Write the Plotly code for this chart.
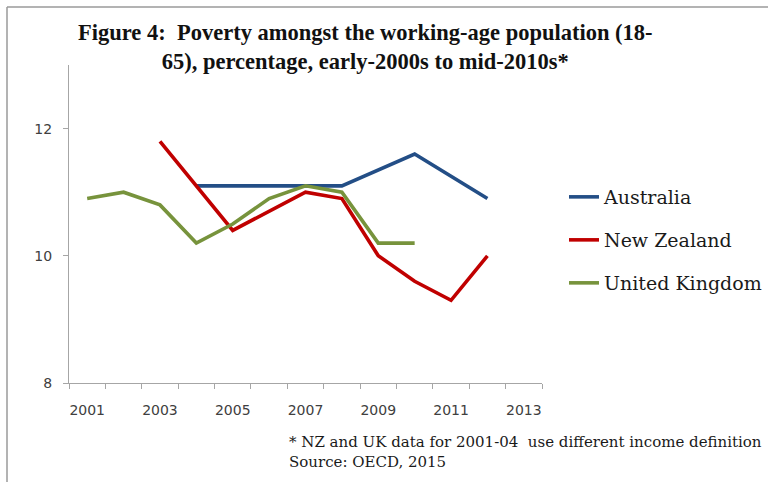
import plotly.graph_objects as go

years = list(range(2001, 2014))
australia = [None, None, None, 11.1, 11.1, 11.1, 11.1, 11.1, None, 11.6, None, 10.9, None]
new_zealand = [None, None, 11.8, None, 10.4, None, 11.0, 10.9, 10.0, 9.6, 9.3, 10.0, None]
united_kingdom = [10.9, 11.0, 10.8, 10.2, 10.5, 10.9, 11.1, 11.0, 10.2, 10.2, None, None, None]
tick_labels = ["2001", "", "2003", "", "2005", "", "2007", "", "2009", "", "2011", "", "2013"]

W, H = 768, 482
L, R, T, B = 69, 542, 65, 383


def px(x):
    return (x - L) / (R - L)


def py(y):
    return (B - y) / (B - T)


fig = go.Figure()
series = [
    ("Australia", australia, "#234E86", "legend"),
    ("New Zealand", new_zealand, "#C00000", "legend2"),
    ("United Kingdom", united_kingdom, "#77933C", "legend3"),
]
for name, vals, col, lg in series:
    fig.add_trace(go.Scatter(
        x=years, y=vals, mode="lines", name=name, connectgaps=True,
        line=dict(color=col, width=3.6), legend=lg, showlegend=True,
    ))

axis_col = "#A6A6A6"
tick_font = dict(family="DejaVu Sans", size=14, color="#404040")
fig.update_layout(
    width=W, height=H, showlegend=True,
    margin=dict(l=L, r=W - R, t=T, b=H - B, autoexpand=False),
    paper_bgcolor="white", plot_bgcolor="white",
    xaxis=dict(
        range=[2000.5, 2013.5], tickmode="array", tickvals=years, ticktext=tick_labels,
        ticks="outside", ticklen=0, showgrid=False, zeroline=False,
        showline=True, linecolor=axis_col, linewidth=1.3,
        tickfont=tick_font, ticklabelstandoff=14,
        minor=dict(tickmode="array", tickvals=[y + 0.5 for y in range(2000, 2014)],
                   ticks="outside", ticklen=5, tickcolor=axis_col, tickwidth=1.3),
    ),
    yaxis=dict(
        range=[8, 13], tickvals=[8, 10, 12], ticks="outside", ticklen=5,
        tickcolor=axis_col, tickwidth=1.3, showgrid=False, zeroline=False,
        showline=True, linecolor=axis_col, linewidth=1.3,
        tickfont=tick_font, ticklabelstandoff=8,
    ),
)

leg_common = dict(xanchor="left", yanchor="middle", bgcolor="rgba(0,0,0,0)",
                  font=dict(family="DejaVu Serif", size=19, color="#1a1a1a"),
                  itemwidth=30)
fig.update_layout(
    legend=dict(x=px(564), y=py(197), **leg_common),
    legend2=dict(x=px(564), y=py(240), **leg_common),
    legend3=dict(x=px(564), y=py(283), **leg_common),
)

fig.add_annotation(
    x=px(365), y=py(47), xref="paper", yref="paper", xanchor="center", yanchor="middle",
    text="<b>Figure 4:  Poverty amongst the working-age population (18-</b><br><b>65), percentage, early-2000s to mid-2010s*</b>",
    showarrow=False, align="center",
    font=dict(family="Liberation Serif", size=22.5, color="#111111"),
)
fig.add_annotation(
    x=px(287), y=py(452), xref="paper", yref="paper", xanchor="left", yanchor="middle",
    text="* NZ and UK data for 2001-04  use different income definition<br>Source: OECD, 2015",
    showarrow=False, align="left",
    font=dict(family="DejaVu Serif", size=15, color="#1a1a1a"),
)

# outer frame (top and left edges)
fig.add_shape(type="line", xref="paper", yref="paper", x0=px(7), x1=px(768), y0=py(7), y1=py(7),
              line=dict(color="#9A9A9A", width=1.5))
fig.add_shape(type="line", xref="paper", yref="paper", x0=px(7), x1=px(7), y0=py(7), y1=py(482),
              line=dict(color="#9A9A9A", width=1.5))

fig.write_html("out.html", post_script="document.body.style.margin='0';",
               config={"displayModeBar": False})
